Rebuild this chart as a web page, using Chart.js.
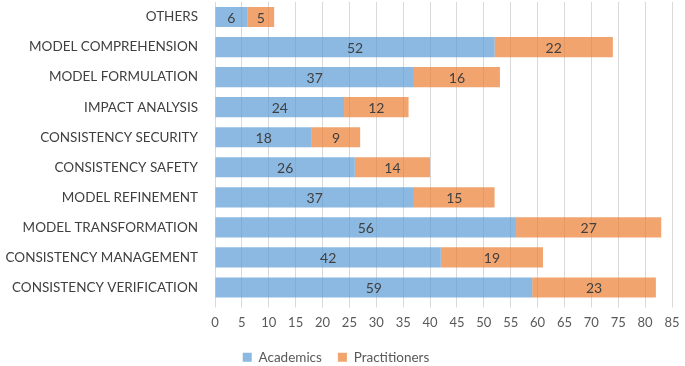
<!DOCTYPE html>
<html>
<head>
<meta charset="utf-8">
<script src="https://cdn.jsdelivr.net/npm/chart.js@4"></script>
<style>
  html, body { margin: 0; padding: 0; background: #fff; }
  #wrap { width: 685px; height: 366px; }
</style>
</head>
<body>
<div id="wrap"><canvas id="chart"></canvas></div>
<script>
const categories = ['OTHERS', 'MODEL COMPREHENSION', 'MODEL FORMULATION', 'IMPACT ANALYSIS',
  'CONSISTENCY SECURITY', 'CONSISTENCY SAFETY', 'MODEL REFINEMENT', 'MODEL TRANSFORMATION',
  'CONSISTENCY MANAGEMENT', 'CONSISTENCY VERIFICATION'];
const academics = [6, 52, 37, 24, 18, 26, 37, 56, 42, 59];
const practitioners = [5, 22, 16, 12, 9, 14, 15, 27, 19, 23];

// draw the value in the middle of each bar
const barLabels = {
  id: 'barLabels',
  afterDatasetsDraw(chart) {
    let ctx = chart.ctx;
    ctx.save();
    ctx.font = '14px Lato';
    ctx.fillStyle = '#404040';
    ctx.textAlign = 'center';
    ctx.textBaseline = 'middle';
    chart.data.datasets.forEach((ds, i) => {
      chart.getDatasetMeta(i).data.forEach((bar, j) => {
        let mid = (bar.x + bar.base) / 2;
        ctx.fillText(ds.data[j], mid, bar.y + 1);
      });
    });
    ctx.restore();
  }
};

// legend padding also sets the gap between items, so pull it back up a bit
const legendShift = {
  id: 'legendShift',
  afterLayout(chart) {
    if (chart.legend) {
      chart.legend.top -= 13;
      chart.legend.bottom -= 13;
    }
  }
};

new Chart(document.getElementById('chart'), {
  type: 'bar',
  data: {
    labels: categories,
    datasets: [{
      label: 'Academics',
      data: academics,
      backgroundColor: 'rgba(91, 155, 213, 0.7)',
      barPercentage: 0.67,
      categoryPercentage: 1
    }, {
      label: 'Practitioners',
      data: practitioners,
      backgroundColor: 'rgba(237, 125, 49, 0.7)',
      barPercentage: 0.67,
      categoryPercentage: 1
    }]
  },
  options: {
    indexAxis: 'y',
    responsive: true,
    maintainAspectRatio: false,
    animation: false,
    layout: { padding: { top: 2, right: 13, left: 0, bottom: -21 } },
    scales: {
      x: {
        stacked: true,
        min: 0,
        max: 85,
        ticks: { stepSize: 5, color: '#595959', font: { family: 'Lato', size: 13 }, padding: 8 },
        grid: { color: '#d9d9d9', tickLength: 5 },
        border: { display: false },
        afterFit: function(scale) {
          scale.height = 45;
          scale.paddingLeft = 0;
          scale.paddingRight = 0;
        }
      },
      y: {
        stacked: true,
        ticks: { color: '#404040', font: { family: 'Lato', size: 13.5 }, padding: 9 },
        grid: { display: false },
        border: { display: false },
        afterFit: function(scale) {
          scale.width = 215;
          scale.paddingTop = 0;
          scale.paddingBottom = 0;
        }
      }
    },
    plugins: {
      legend: {
        position: 'bottom',
        labels: {
          boxWidth: 9, boxHeight: 9, color: '#595959',
          font: { family: 'Lato', size: 13.5 }, padding: 16
        }
      },
      tooltip: { enabled: false }
    }
  },
  plugins: [barLabels, legendShift]
});
</script>
</body>
</html>
